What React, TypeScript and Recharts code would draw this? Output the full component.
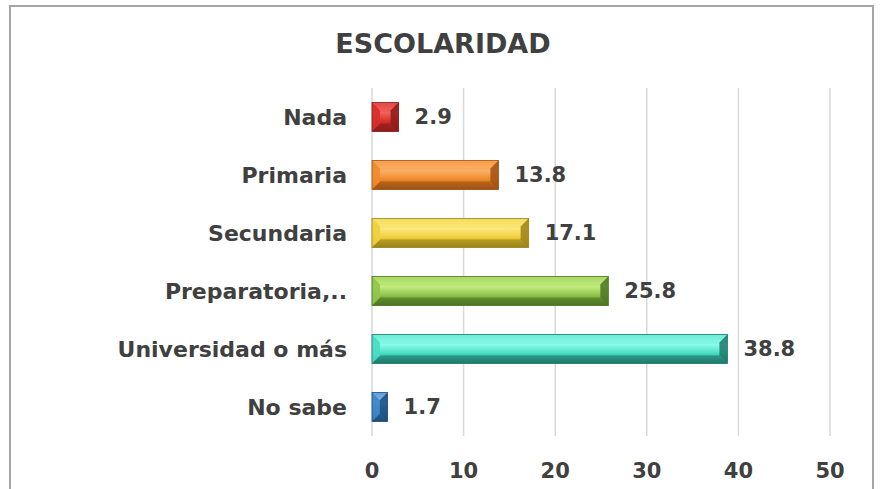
import { Bar, BarChart, CartesianGrid, Cell, LabelList, XAxis, YAxis } from "recharts";

const categories = ["Nada", "Primaria", "Secundaria", "Preparatoria,..", "Universidad o más", "No sabe"];
const values = [2.9, 13.8, 17.1, 25.8, 38.8, 1.7];
const xTicks = [0, 10, 20, 30, 40, 50];

// light / mid / dark per bar
const palette = [
  ["#f2625e", "#d62f2b", "#8c1c1a"],
  ["#fbb066", "#f08a2c", "#a05212"],
  ["#fbe77c", "#f0cf3e", "#9c8318"],
  ["#c2ec7e", "#8fc54a", "#4d7424"],
  ["#8cfbe7", "#48dcc4", "#1f7a6b"],
  ["#7fb7ea", "#3f86c8", "#1d4d7d"],
];

const data = categories.map((name, i) => ({ name, value: values[i] }));

const font = "'DejaVu Sans', sans-serif";
const textColor = "#404040";

const BevelBar = (props: any) => {
  const { x, y, width, height, index } = props;
  if (!width || width <= 0) return null;
  const [light, mid, dark] = palette[index];
  const b = Math.min(8, width / 2);
  const id = `g${index}`;
  return (
    <g>
      <defs>
        <linearGradient id={id} x1="0" y1="0" x2="0" y2="1">
          <stop offset="0%" stopColor={mid} />
          <stop offset="35%" stopColor={light} />
          <stop offset="65%" stopColor={mid} />
          <stop offset="100%" stopColor={dark} />
        </linearGradient>
      </defs>
      <rect x={x} y={y} width={width} height={height} fill={`url(#${id})`} />
      {/* top bevel */}
      <polygon points={`${x},${y} ${x + width},${y} ${x + width - b},${y + b} ${x + b},${y + b}`} fill={light} opacity={0.5} />
      {/* bottom bevel */}
      <polygon points={`${x},${y + height} ${x + width},${y + height} ${x + width - b},${y + height - b} ${x + b},${y + height - b}`} fill={dark} opacity={0.6} />
      {/* left bevel */}
      <polygon points={`${x},${y} ${x + b},${y + b} ${x + b},${y + height - b} ${x},${y + height}`} fill={mid} opacity={0.9} />
      {/* right bevel */}
      <polygon points={`${x + width},${y} ${x + width - b},${y + b} ${x + width - b},${y + height - b} ${x + width},${y + height}`} fill={dark} opacity={0.85} />
      <rect x={x} y={y} width={width} height={height} fill="none" stroke={dark} strokeWidth={0.8} />
    </g>
  );
};

export default function App() {
  return (
    <div style={{ position: "absolute", left: 0, top: 0, width: 880, height: 489, background: "#fff", overflow: "hidden" }}>
      <div
        style={{
          position: "absolute",
          left: 9,
          top: 5,
          width: 865,
          height: 520,
          border: "2px solid #a6a6a6",
          boxSizing: "border-box",
        }}
      />
      <div
        style={{
          position: "absolute",
          left: 0,
          width: 886,
          top: 28,
          textAlign: "center",
          fontFamily: font,
          fontWeight: 700,
          fontSize: 27,
          color: textColor,
        }}
      >
        ESCOLARIDAD
      </div>
      <div style={{ position: "absolute", left: 0, top: 0 }}>
        <BarChart
          width={880}
          height={489}
          data={data}
          layout="vertical"
          margin={{ top: 88, right: 50, bottom: 0, left: 0 }}
          barCategoryGap="25%"
        >
          <CartesianGrid horizontal={false} stroke="#d9d9d9" strokeWidth={1.5} />
          <XAxis
            type="number"
            domain={[0, 50]}
            ticks={xTicks}
            axisLine={false}
            tickLine={false}
            tickSize={0}
            tickMargin={27}
            height={53}
            interval={0}
            tick={{ fill: textColor, fontSize: 21, fontWeight: 700, fontFamily: font }}
          />
          <YAxis
            type="category"
            dataKey="name"
            width={372}
            axisLine={false}
            tickLine={false}
            tickSize={0}
            tickMargin={25}
            interval={0}
            tick={{ fill: textColor, fontSize: 22, fontWeight: 700, fontFamily: font }}
          />
          <Bar dataKey="value" isAnimationActive={false} shape={<BevelBar />}>
            {data.map((d, i) => (
              <Cell key={d.name} fill={palette[i][1]} />
            ))}
            <LabelList
              dataKey="value"
              position="right"
              offset={16}
              fill={textColor}
              fontSize={21}
              fontWeight={700}
              fontFamily={font}
            />
          </Bar>
        </BarChart>
      </div>
    </div>
  );
}
